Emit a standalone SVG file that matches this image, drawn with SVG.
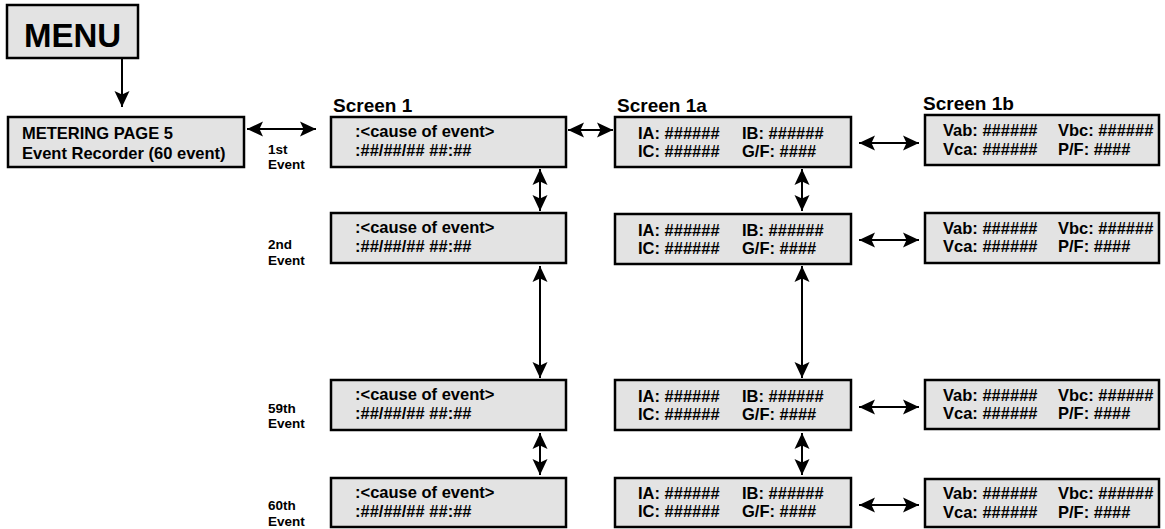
<svg xmlns="http://www.w3.org/2000/svg" width="1165" height="529" viewBox="0 0 1165 529">
<style>
.box{fill:#e3e3e3;stroke:#000;stroke-width:2.5}
.t{font-family:"Liberation Sans",Arial,sans-serif;font-weight:bold;font-size:16.5px;fill:#000}
.h{font-family:"Liberation Sans",Arial,sans-serif;font-weight:bold;font-size:19px;fill:#000}
.s{font-family:"Liberation Sans",Arial,sans-serif;font-weight:bold;font-size:13.5px;fill:#000}
.c{fill:none;stroke:#000;stroke-width:2}
</style>
<defs>
<marker id="ah" markerUnits="userSpaceOnUse" markerWidth="18" markerHeight="16" viewBox="0 -8 17 16" refX="16" refY="0" orient="auto-start-reverse">
<path d="M0,-7.5 L16,0 L0,7.5 L3.5,0 Z" fill="#000"/>
</marker>
</defs>
<g id="menu"><rect class="box" x="7" y="5" width="131" height="53"/><text x="72.5" y="47" text-anchor="middle" font-family="Liberation Sans, Arial, sans-serif" font-weight="bold" font-size="33">MENU</text></g>
<g id="metering"><rect class="box" x="8" y="117" width="236" height="50"/><text class="t" x="22" y="139">METERING PAGE 5</text><text class="t" x="22" y="159">Event Recorder (60 event)</text></g>
<g id="labels">
<text class="h" x="333" y="112">Screen 1</text>
<text class="h" x="617" y="112">Screen 1a</text>
<text class="h" x="923" y="110">Screen 1b</text>
<text class="s" x="268" y="154">1st</text><text class="s" x="268" y="169">Event</text>
<text class="s" x="268" y="249">2nd</text><text class="s" x="268" y="265">Event</text>
<text class="s" x="268" y="413">59th</text><text class="s" x="268" y="428">Event</text>
<text class="s" x="268" y="510">60th</text><text class="s" x="268" y="526">Event</text>
</g>
<g id="s1-1"><rect class="box" x="331" y="117" width="235" height="50"/><text class="t" x="355" y="137">:&lt;cause of event&gt;</text><text class="t" x="355" y="156">:##/##/## ##:##</text></g>
<g id="s1-2"><rect class="box" x="331" y="213" width="235" height="50"/><text class="t" x="355" y="233">:&lt;cause of event&gt;</text><text class="t" x="355" y="252">:##/##/## ##:##</text></g>
<g id="s1-59"><rect class="box" x="331" y="380" width="235" height="50"/><text class="t" x="355" y="400">:&lt;cause of event&gt;</text><text class="t" x="355" y="419">:##/##/## ##:##</text></g>
<g id="s1-60"><rect class="box" x="331" y="478" width="235" height="49"/><text class="t" x="355" y="498">:&lt;cause of event&gt;</text><text class="t" x="355" y="517">:##/##/## ##:##</text></g>
<g id="s1a-1"><rect class="box" x="615" y="117" width="236" height="50"/><text class="t" x="638" y="139">IA: ######</text><text class="t" x="742" y="139">IB: ######</text><text class="t" x="638" y="157">IC: ######</text><text class="t" x="742" y="157">G/F: ####</text></g>
<g id="s1a-2"><rect class="box" x="615" y="214" width="236" height="50"/><text class="t" x="638" y="236">IA: ######</text><text class="t" x="742" y="236">IB: ######</text><text class="t" x="638" y="254">IC: ######</text><text class="t" x="742" y="254">G/F: ####</text></g>
<g id="s1a-59"><rect class="box" x="615" y="380" width="236" height="50"/><text class="t" x="638" y="402">IA: ######</text><text class="t" x="742" y="402">IB: ######</text><text class="t" x="638" y="420">IC: ######</text><text class="t" x="742" y="420">G/F: ####</text></g>
<g id="s1a-60"><rect class="box" x="615" y="478" width="236" height="49"/><text class="t" x="638" y="499">IA: ######</text><text class="t" x="742" y="499">IB: ######</text><text class="t" x="638" y="517">IC: ######</text><text class="t" x="742" y="517">G/F: ####</text></g>
<g id="s1b-1"><rect class="box" x="925" y="115" width="234" height="50"/><text class="t" x="943" y="136">Vab: ######</text><text class="t" x="1058" y="136">Vbc: ######</text><text class="t" x="943" y="155">Vca: ######</text><text class="t" x="1058" y="155">P/F: ####</text></g>
<g id="s1b-2"><rect class="box" x="925" y="213" width="234" height="50"/><text class="t" x="943" y="234">Vab: ######</text><text class="t" x="1058" y="234">Vbc: ######</text><text class="t" x="943" y="252">Vca: ######</text><text class="t" x="1058" y="252">P/F: ####</text></g>
<g id="s1b-59"><rect class="box" x="925" y="380" width="234" height="49"/><text class="t" x="943" y="401">Vab: ######</text><text class="t" x="1058" y="401">Vbc: ######</text><text class="t" x="943" y="419">Vca: ######</text><text class="t" x="1058" y="419">P/F: ####</text></g>
<g id="s1b-60"><rect class="box" x="925" y="479" width="234" height="48"/><text class="t" x="943" y="499">Vab: ######</text><text class="t" x="1058" y="499">Vbc: ######</text><text class="t" x="943" y="518">Vca: ######</text><text class="t" x="1058" y="518">P/F: ####</text></g>
<g id="connectors">
<line class="c" x1="122" y1="59" x2="122" y2="107" marker-end="url(#ah)"/>
<line class="c" x1="247" y1="129" x2="316" y2="129" marker-start="url(#ah)" marker-end="url(#ah)"/>
<line class="c" x1="568" y1="130" x2="613" y2="130" marker-start="url(#ah)" marker-end="url(#ah)"/>
<line class="c" x1="859" y1="143" x2="919" y2="143" marker-start="url(#ah)" marker-end="url(#ah)"/>
<line class="c" x1="859" y1="240" x2="919" y2="240" marker-start="url(#ah)" marker-end="url(#ah)"/>
<line class="c" x1="859" y1="407" x2="919" y2="407" marker-start="url(#ah)" marker-end="url(#ah)"/>
<line class="c" x1="859" y1="505" x2="919" y2="505" marker-start="url(#ah)" marker-end="url(#ah)"/>
<line class="c" x1="540" y1="169" x2="540" y2="211" marker-start="url(#ah)" marker-end="url(#ah)"/>
<line class="c" x1="540" y1="266" x2="540" y2="378" marker-start="url(#ah)" marker-end="url(#ah)"/>
<line class="c" x1="540" y1="433" x2="540" y2="475" marker-start="url(#ah)" marker-end="url(#ah)"/>
<line class="c" x1="802" y1="169" x2="802" y2="211" marker-start="url(#ah)" marker-end="url(#ah)"/>
<line class="c" x1="802" y1="266" x2="802" y2="378" marker-start="url(#ah)" marker-end="url(#ah)"/>
<line class="c" x1="802" y1="433" x2="802" y2="475" marker-start="url(#ah)" marker-end="url(#ah)"/>
</g>
</svg>
